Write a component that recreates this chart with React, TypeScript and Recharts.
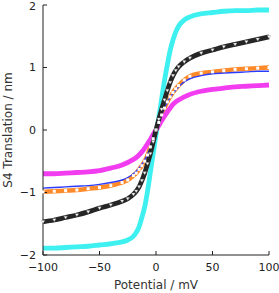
import { LineChart, Line, XAxis, YAxis } from "recharts";

const potential = [-100, -90, -80, -70, -60, -50, -40, -30, -25, -20, -17.5, -15, -12.5, -10, -7.5, -5, -2.5, 0, 2.5, 5, 7.5, 10, 12.5, 15, 17.5, 20, 25, 30, 40, 50, 60, 70, 80, 90, 100];

const cyanSeries = [-1.89, -1.89, -1.88, -1.87, -1.86, -1.84, -1.82, -1.79, -1.76, -1.7, -1.64, -1.55, -1.4, -1.23, -0.98, -0.68, -0.38, -0.08, 0.2, 0.5, 0.79, 1.04, 1.27, 1.44, 1.57, 1.66, 1.76, 1.81, 1.86, 1.88, 1.9, 1.91, 1.91, 1.92, 1.92];
const blackSeries = [-1.47, -1.44, -1.4, -1.36, -1.31, -1.25, -1.2, -1.14, -1.1, -1.03, -0.98, -0.91, -0.81, -0.69, -0.54, -0.38, -0.19, 0, 0.17, 0.33, 0.48, 0.63, 0.76, 0.87, 0.95, 1.01, 1.09, 1.15, 1.23, 1.28, 1.33, 1.37, 1.41, 1.45, 1.49];
const orangeSeries = [-0.99, -0.98, -0.97, -0.96, -0.94, -0.92, -0.89, -0.84, -0.8, -0.73, -0.69, -0.63, -0.57, -0.5, -0.4, -0.27, -0.14, 0, 0.12, 0.24, 0.35, 0.45, 0.53, 0.6, 0.66, 0.71, 0.8, 0.86, 0.91, 0.93, 0.95, 0.97, 0.98, 0.99, 1.0];
const blueSeries = [-0.93, -0.92, -0.91, -0.9, -0.89, -0.87, -0.84, -0.8, -0.76, -0.7, -0.66, -0.61, -0.55, -0.48, -0.39, -0.27, -0.14, 0, 0.12, 0.24, 0.35, 0.44, 0.52, 0.59, 0.64, 0.69, 0.77, 0.82, 0.87, 0.9, 0.91, 0.92, 0.93, 0.94, 0.94];
const magentaSeries = [-0.7, -0.7, -0.69, -0.68, -0.67, -0.65, -0.61, -0.56, -0.52, -0.47, -0.44, -0.4, -0.35, -0.29, -0.22, -0.15, -0.07, 0, 0.07, 0.15, 0.22, 0.29, 0.35, 0.41, 0.45, 0.48, 0.53, 0.57, 0.62, 0.65, 0.67, 0.69, 0.7, 0.71, 0.72];

const xTicks = [-100, -50, 0, 50, 100];
const yTicks = [-2, -1, 0, 1, 2];

const data = potential.map((p, i) => ({
  p,
  cyan: cyanSeries[i],
  black: blackSeries[i],
  orange: orangeSeries[i],
  blue: blueSeries[i],
  magenta: magentaSeries[i],
}));

const FONT = "DejaVu Sans, sans-serif";
const fmt = (v: number) => String(v).replace("-", "\u2212");

const TriangleDot = (props: any) => {
  const { cx, cy } = props;
  if (cx == null || cy == null) return null;
  return <polygon points={`${cx - 1.8},${cy - 1.3} ${cx + 1.8},${cy - 1.3} ${cx},${cy + 1.6}`} fill="#fff" stroke="#888" strokeWidth={0.4} />;
};

const SquareDot = (props: any) => {
  const { cx, cy } = props;
  if (cx == null || cy == null) return null;
  return <rect x={cx - 1.5} y={cy - 1.5} width={3} height={3} fill="#fff" />;
};

export default function App() {
  return (
    <div style={{ position: "fixed", left: 0, top: 0, background: "#fff" }}>
      <LineChart width={279} height={293} data={data} margin={{ top: 5, right: 10, bottom: 0, left: 0 }}>
        <XAxis
          dataKey="p"
          type="number"
          domain={[-100, 100]}
          ticks={xTicks}
          tickFormatter={fmt}
          tickSize={-4}
          tickMargin={12}
          height={38}
          stroke="#222"
          tick={{ fill: "#222", fontSize: 11, fontFamily: FONT }}
          label={{ value: "Potential / mV", position: "insideBottom", offset: 4, style: { fill: "#333", fontSize: 12, fontFamily: FONT } }}
        />
        <XAxis xAxisId="top" dataKey="p" type="number" domain={[-100, 100]} ticks={xTicks} orientation="top" height={0} tick={false} tickSize={-4} stroke="#222" />
        <YAxis
          type="number"
          domain={[-2, 2]}
          ticks={yTicks}
          tickFormatter={fmt}
          tickSize={-4}
          tickMargin={11}
          width={43}
          stroke="#222"
          tick={{ fill: "#222", fontSize: 11, fontFamily: FONT }}
          label={{ value: "S4 Translation / nm", angle: -90, position: "insideLeft", offset: 8, style: { textAnchor: "middle", fill: "#333", fontSize: 12, fontFamily: FONT } }}
        />
        <YAxis yAxisId="right" type="number" domain={[-2, 2]} ticks={yTicks} orientation="right" width={0} tick={false} tickSize={-4} stroke="#222" />
        <Line type="monotone" dataKey="cyan" stroke="#3ff0f0" strokeWidth={4.8} dot={false} isAnimationActive={false} />
        <Line type="monotone" dataKey="orange" stroke="#ff8a2a" strokeWidth={4.5} dot={<SquareDot />} isAnimationActive={false} />
        <Line type="monotone" dataKey="blue" stroke="#2a3cff" strokeWidth={1.4} dot={false} isAnimationActive={false} />
        <Line type="monotone" dataKey="magenta" stroke="#f23cf0" strokeWidth={4.8} dot={false} isAnimationActive={false} />
        <Line type="monotone" dataKey="black" stroke="#262626" strokeWidth={4.8} dot={<TriangleDot />} isAnimationActive={false} />
      </LineChart>
    </div>
  );
}
